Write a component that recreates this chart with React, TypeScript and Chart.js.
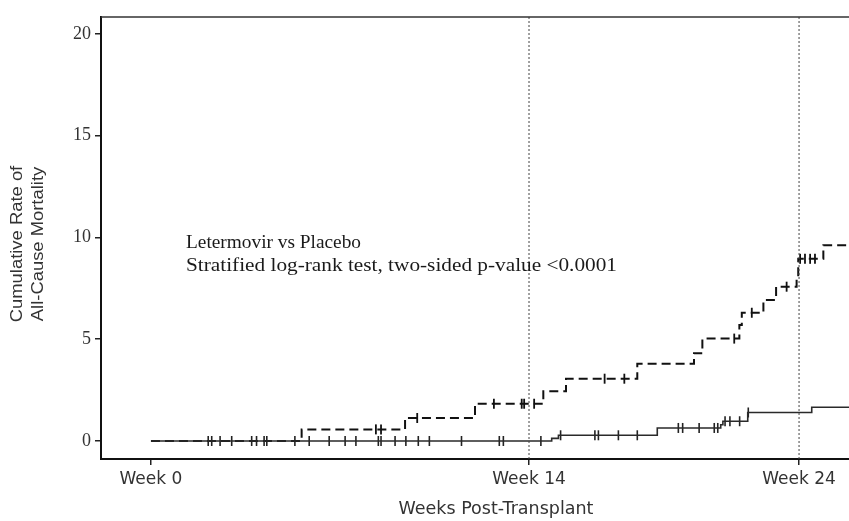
import React, { useEffect, useRef } from 'react';
import { Chart, registerables } from 'chart.js';

Chart.register(...registerables);

// ---- axes ----
const X_MIN = -1.85;
const X_MAX = 25.85;
const Y_MIN = -0.885;
const Y_MAX = 20.83;
const X_TICKS = [0, 14, 24];
const X_TICK_LABELS = ['Week 0', 'Week 14', 'Week 24'];
const Y_TICKS = [0, 5, 10, 15, 20];
const REF_WEEKS = [14, 24];

// ---- Placebo (dashed) ----
const placeboStepWeeks = [0, 5.58, 9.41, 12.0, 14.53, 15.37, 18.01, 20.11, 20.42, 21.79, 21.88, 22.68, 23.15, 23.91, 23.97, 24.9, 25.85];
const placeboStepRates = [0, 0.57, 1.13, 1.83, 2.44, 3.06, 3.8, 4.31, 5.03, 5.7, 6.3, 6.93, 7.58, 8.07, 8.95, 9.62, 9.62];
const placeboCensorWeeks = [8.33, 8.52, 9.86, 12.7, 13.73, 13.82, 14.19, 16.8, 17.53, 21.6, 22.25, 23.54, 24.04, 24.22, 24.41, 24.59];

// ---- Letermovir (solid) ----
const letermovirStepWeeks = [0, 14.84, 15.09, 18.75, 21.1, 21.18, 22.1, 24.47, 25.85];
const letermovirStepRates = [0, 0.13, 0.28, 0.64, 0.8, 0.97, 1.4, 1.66, 1.66];
const letermovirCensorWeeks = [2.12, 2.25, 2.56, 2.99, 3.73, 3.91, 4.19, 4.29, 5.33, 5.86, 6.6, 7.19, 7.59, 8.42, 8.52, 9.04, 9.44, 9.9, 10.31, 11.5, 12.9, 13.05, 14.44, 15.17, 16.44, 16.57, 17.31, 18.01, 19.53, 19.69, 20.3, 20.86, 20.99, 21.26, 21.44, 21.8, 22.12];

// ---- text ----
const ANNOTATION_LINES = ['Letermovir vs Placebo', 'Stratified log-rank test, two-sided p-value <0.0001'];
const ANNOTATION_WIDTHS = [175, 431];
const Y_TITLE_LINES = ['Cumulative Rate of', 'All-Cause Mortality'];
const X_TITLE = 'Weeks Post-Transplant';

function levelAt(weeks: number[], rates: number[], t: number): number {
  let v = rates[0];
  for (let i = 0; i < weeks.length; i++) {
    if (weeks[i] <= t) v = rates[i];
  }
  return v;
}

const textPlugin = {
  id: 'textPlugin',
  afterDraw(chart: any) {
    const { ctx, chartArea } = chart;
    ctx.save();
    // top frame line
    ctx.strokeStyle = '#333';
    ctx.lineWidth = 1.5;
    ctx.beginPath();
    ctx.moveTo(chartArea.left, chartArea.top);
    ctx.lineTo(chartArea.right, chartArea.top);
    ctx.stroke();

    // annotation
    ctx.fillStyle = '#1a1a1a';
    ctx.font = '18px "Liberation Serif", "Times New Roman", serif';
    ctx.textAlign = 'left';
    ctx.textBaseline = 'alphabetic';
    ANNOTATION_LINES.forEach((line, i) => {
      const w = ctx.measureText(line).width;
      ctx.save();
      ctx.translate(chartArea.left + 85, 248 + i * 23);
      ctx.scale(ANNOTATION_WIDTHS[i] / w, 1);
      ctx.fillText(line, 0, 0);
      ctx.restore();
    });

    // y title
    ctx.fillStyle = '#333';
    ctx.font = '16px "Liberation Sans", Arial, sans-serif';
    ctx.textAlign = 'center';
    ctx.textBaseline = 'middle';
    Y_TITLE_LINES.forEach((line, i) => {
      ctx.save();
      ctx.translate(18 + i * 21, 244);
      ctx.rotate(-Math.PI / 2);
      ctx.scale(1.15, 1);
      ctx.fillText(line, 0, 0);
      ctx.restore();
    });

    // x title
    ctx.font = '17px "DejaVu Sans", Verdana, sans-serif';
    ctx.fillStyle = '#333';
    ctx.textAlign = 'center';
    ctx.textBaseline = 'middle';
    ctx.save();
    ctx.translate(496, 510);
    ctx.scale(1.03, 1);
    ctx.fillText(X_TITLE, 0, 0);
    ctx.restore();
    ctx.restore();
  },
};

export default function App() {
  const canvasRef = useRef<HTMLCanvasElement | null>(null);

  useEffect(() => {
    if (!canvasRef.current) return;

    const refDatasets = REF_WEEKS.map((w) => ({
      data: [
        { x: w, y: Y_MIN },
        { x: w, y: Y_MAX },
      ],
      showLine: true,
      borderColor: '#444',
      borderWidth: 1,
      borderDash: [2, 2],
      pointRadius: 0,
    }));

    const placeboLine = placeboStepWeeks.map((w, i) => ({ x: w, y: placeboStepRates[i] }));
    const letermovirLine = letermovirStepWeeks.map((w, i) => ({ x: w, y: letermovirStepRates[i] }));
    const placeboCensors = placeboCensorWeeks.map((w) => ({ x: w, y: levelAt(placeboStepWeeks, placeboStepRates, w) }));
    const letermovirCensors = letermovirCensorWeeks.map((w) => ({ x: w, y: levelAt(letermovirStepWeeks, letermovirStepRates, w) }));

    const chart = new Chart(canvasRef.current, {
      type: 'scatter',
      data: {
        datasets: [
          ...refDatasets,
          {
            label: 'Letermovir',
            data: letermovirLine,
            showLine: true,
            stepped: true,
            borderColor: '#2a2a2a',
            borderWidth: 1.6,
            pointRadius: 0,
          },
          {
            label: 'Placebo',
            data: placeboLine,
            showLine: true,
            stepped: true,
            borderColor: '#111',
            borderWidth: 2,
            borderDash: [9, 5],
            pointRadius: 0,
          },
          {
            label: 'Letermovir censored',
            data: letermovirCensors,
            showLine: false,
            pointStyle: 'line',
            rotation: 90,
            pointRadius: 5,
            borderColor: '#222',
            borderWidth: 1.6,
          },
          {
            label: 'Placebo censored',
            data: placeboCensors,
            showLine: false,
            pointStyle: 'line',
            rotation: 90,
            pointRadius: 5,
            borderColor: '#111',
            borderWidth: 1.8,
          },
        ] as any,
      },
      options: {
        animation: false,
        responsive: false,
        devicePixelRatio: 1,
        layout: { autoPadding: false, padding: { top: 17, right: 0, left: 0, bottom: 0 } },
        plugins: {
          legend: { display: false },
          tooltip: { enabled: false },
        },
        scales: {
          x: {
            type: 'linear',
            min: X_MIN,
            max: X_MAX,
            afterBuildTicks: (scale: any) => {
              scale.ticks = X_TICKS.map((v) => ({ value: v }));
            },
            afterFit: (scale: any) => {
              scale.height = 62;
              scale.paddingLeft = 0;
              scale.paddingRight = 0;
            },
            grid: {
              display: true,
              drawOnChartArea: false,
              drawTicks: true,
              tickLength: 6,
              color: '#222',
              lineWidth: 1.5,
            },
            border: { display: true, color: '#111', width: 2 },
            ticks: {
              maxRotation: 0,
              autoSkip: false,
              padding: 4,
              color: '#333',
              font: { family: '"DejaVu Sans", Verdana, sans-serif', size: 17 },
              callback: (v: any) => {
                const i = X_TICKS.indexOf(Number(v));
                return i >= 0 ? X_TICK_LABELS[i] : '';
              },
            },
          },
          y: {
            type: 'linear',
            min: Y_MIN,
            max: Y_MAX,
            afterBuildTicks: (scale: any) => {
              scale.ticks = Y_TICKS.map((v) => ({ value: v }));
            },
            afterFit: (scale: any) => {
              scale.width = 101;
              scale.paddingTop = 0;
              scale.paddingBottom = 0;
            },
            grid: {
              display: true,
              drawOnChartArea: false,
              drawTicks: true,
              tickLength: 6,
              color: '#222',
              lineWidth: 1.5,
            },
            border: { display: true, color: '#111', width: 2 },
            ticks: {
              padding: 4,
              color: '#333',
              font: { family: '"Liberation Serif", "Times New Roman", serif', size: 18 },
              callback: (v: any) => String(v),
            },
          },
        },
      } as any,
      plugins: [textPlugin],
    });

    return () => chart.destroy();
  }, []);

  return (
    <div style={{ position: 'fixed', left: 0, top: 0, width: 849, height: 521, background: '#fff' }}>
      <canvas ref={canvasRef} width={849} height={521} style={{ display: 'block', width: 849, height: 521 }} />
    </div>
  );
}
